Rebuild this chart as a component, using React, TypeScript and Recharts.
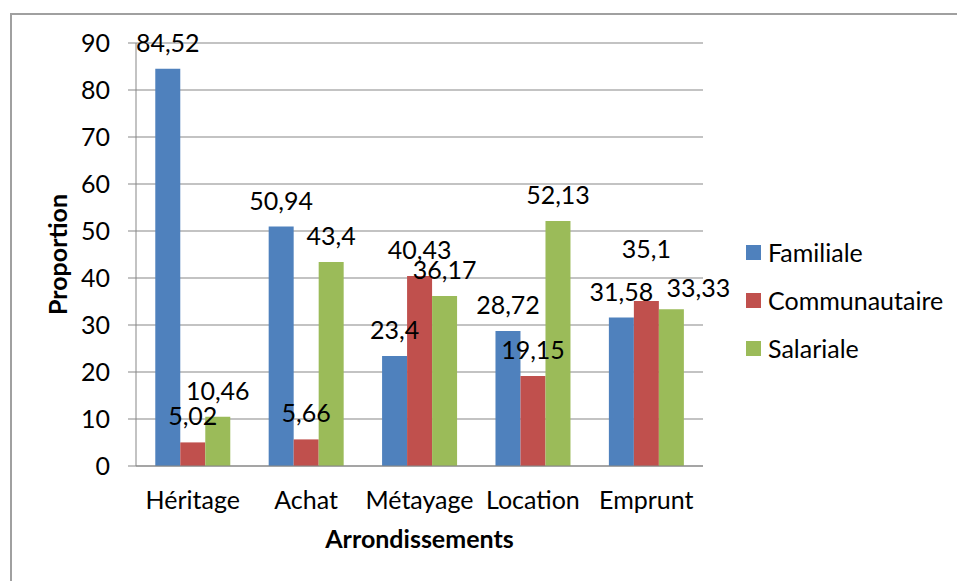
import { BarChart, Bar, XAxis, YAxis, CartesianGrid, Legend, LabelList } from "recharts";

const categories = ["Héritage", "Achat", "Métayage", "Location", "Emprunt"];
const familiale = [84.52, 50.94, 23.4, 28.72, 31.58];
const communautaire = [5.02, 5.66, 40.43, 19.15, 35.1];
const salariale = [10.46, 43.4, 36.17, 52.13, 33.33];
const yTicks = [0, 10, 20, 30, 40, 50, 60, 70, 80, 90];

const series = [
  { key: "Familiale", color: "#4F81BD", values: familiale },
  { key: "Communautaire", color: "#C0504D", values: communautaire },
  { key: "Salariale", color: "#9BBB59", values: salariale },
];

const data = categories.map((name, i) => {
  const row: Record<string, string | number> = { name };
  series.forEach((s) => {
    row[s.key] = s.values[i];
  });
  return row;
});

const FONT = "Lato, 'Open Sans', sans-serif";
const FONT_SIZE = 25;
const LINE = "#878787";

// labels that had to be moved off their default spot to avoid overlaps
const labelNudge: Record<string, { dx: number; dy: number }> = {
  "Communautaire|Emprunt": { dx: 0, dy: -26 },
  "Salariale|Emprunt": { dx: 27, dy: 5 },
};

function formatValue(v: number | string) {
  return String(v).replace(".", ",");
}

function valueLabel(seriesKey: string) {
  return (props: any) => {
    const { x, y, width, value, index } = props;
    const nudge = labelNudge[seriesKey + "|" + categories[index]] || { dx: 0, dy: 0 };
    return (
      <text
        x={Number(x) + Number(width) / 2 + nudge.dx}
        y={Number(y) - 17 + nudge.dy}
        textAnchor="middle"
        fill="#000"
        fontSize={FONT_SIZE}
        fontFamily={FONT}
      >
        {formatValue(value)}
      </text>
    );
  };
}

function YTitle(props: any) {
  const { viewBox } = props;
  const cy = viewBox.y + viewBox.height / 2;
  return (
    <text
      x={67}
      y={cy}
      transform={`rotate(-90, 67, ${cy})`}
      textAnchor="middle"
      fill="#000"
      fontSize={FONT_SIZE}
      fontWeight={700}
      fontFamily={FONT}
    >
      Proportion
    </text>
  );
}

function LegendBox() {
  return (
    <div style={{ fontFamily: FONT, fontSize: FONT_SIZE, color: "#000" }}>
      {series.map((s) => (
        <div key={s.key} style={{ height: 48, display: "flex", alignItems: "center" }}>
          <span style={{ width: 15, height: 15, background: s.color, display: "inline-block" }} />
          <span style={{ marginLeft: 7 }}>{s.key}</span>
        </div>
      ))}
    </div>
  );
}

export default function App() {
  return (
    <div style={{ position: "absolute", left: 0, top: 0, width: 957, height: 581, background: "#fff" }}>
      <div
        style={{
          position: "absolute",
          left: 10,
          top: 13,
          right: 0,
          bottom: 0,
          borderTop: `2px solid #a0a0a0`,
          borderLeft: `2px solid #a0a0a0`,
        }}
      />
      <BarChart
        width={957}
        height={581}
        data={data}
        margin={{ top: 43, right: 254, bottom: 25, left: 0 }}
        barCategoryGap="17%"
        barGap={0}
      >
        <CartesianGrid vertical={false} stroke={LINE} strokeWidth={1} />
        <XAxis
          dataKey="name"
          height={90}
          interval={0}
          tickSize={0}
          tickMargin={25}
          tickLine={false}
          axisLine={{ stroke: LINE }}
          tick={{ fill: "#000", fontSize: FONT_SIZE, fontFamily: FONT }}
          label={{
            value: "Arrondissements",
            position: "insideBottom",
            offset: 8,
            fill: "#000",
            fontSize: FONT_SIZE,
            fontWeight: 700,
            fontFamily: FONT,
          }}
        />
        <YAxis
          width={136}
          domain={[0, 90]}
          ticks={yTicks}
          tickSize={8}
          tickMargin={18}
          tickLine={{ stroke: LINE }}
          axisLine={{ stroke: LINE }}
          tick={{ fill: "#000", fontSize: FONT_SIZE, fontFamily: FONT }}
          label={<YTitle />}
        />
        <Legend
          layout="vertical"
          align="center"
          verticalAlign="middle"
          content={<LegendBox />}
          wrapperStyle={{ left: 746, top: 228, width: 210 }}
        />
        {series.map((s) => (
          <Bar key={s.key} dataKey={s.key} fill={s.color} isAnimationActive={false}>
            <LabelList dataKey={s.key} content={valueLabel(s.key)} />
          </Bar>
        ))}
      </BarChart>
    </div>
  );
}
